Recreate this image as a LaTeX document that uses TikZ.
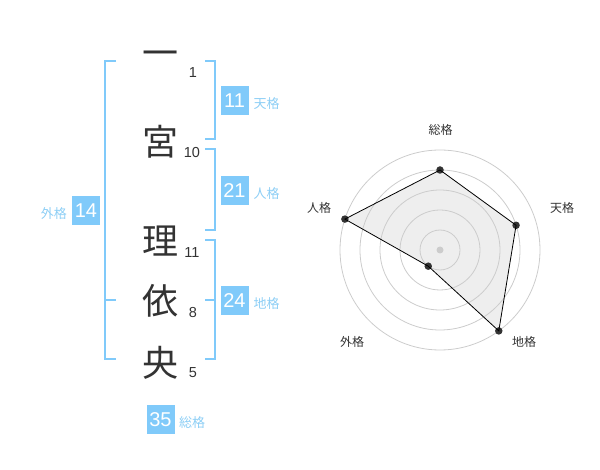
\documentclass[tikz,border=0pt]{standalone}
\usepackage{fontspec}
\setmainfont{Liberation Sans}
\newfontfamily\jp{Noto Sans CJK JP}
\usetikzlibrary{backgrounds}
\definecolor{boxblue}{RGB}{128,202,250}
\definecolor{lblblue}{RGB}{140,206,245}
\definecolor{ink}{RGB}{51,51,51}
\definecolor{ring}{RGB}{204,204,204}
\definecolor{polyfill}{RGB}{238,238,238}
\begin{document}
\begin{tikzpicture}[x=1pt,y=-1pt,
  kanji/.style={font=\jp\fontsize{36}{36}\selectfont, text=ink, inner sep=0pt},
  strokes/.style={font=\fontsize{14.5}{15}\selectfont, text=ink, inner sep=0pt},
  numbox/.style={fill=boxblue, text=white, minimum width=28pt, minimum height=29pt, inner sep=0pt, font=\fontsize{20}{20}\selectfont},
  kaku/.style={font=\jp\fontsize{13}{13}\selectfont, text=lblblue, inner sep=0pt},
  bracket/.style={draw=boxblue, line width=2pt},
  axislabel/.style={font=\jp\fontsize{12}{12}\selectfont, text=ink, inner sep=0pt},
  ringline/.style={draw=ring, line width=0.8pt},
  dot/.style={circle, fill=ink, inner sep=0pt, minimum size=7.5pt},
  cdot/.style={circle, fill=ring, inner sep=0pt, minimum size=7pt},
  outline/.style={draw=black, line width=0.8pt}
]
\useasboundingbox (0,0) rectangle (600,470);

% --- name characters ---
\node[kanji] (k1) at (160,58.3) {一};
\node[kanji] (k2) at (160,142) {宮};
\node[kanji] (k3) at (160,241) {理};
\node[kanji] (k4) at (160,301) {依};
\node[kanji] (k5) at (160,362.5) {央};

\node[strokes] (s1) at (193,73) {1};
\node[strokes] (s2) at (192,153) {10};
\node[strokes] (s3) at (192,253) {11};
\node[strokes] (s4) at (193,313) {8};
\node[strokes] (s5) at (193,373) {5};

% --- brackets ---
\draw[bracket] (116,61) -- (105,61) -- (105,359) -- (116,359);
\draw[bracket] (105,300) -- (116,300);
\draw[bracket] (205,61) -- (215,61) -- (215,139) -- (205,139);
\draw[bracket] (205,149) -- (215,149) -- (215,230) -- (205,230);
\draw[bracket] (205,240) -- (215,240) -- (215,359) -- (205,359);
\draw[bracket] (205,300) -- (215,300);

% --- boxes and labels ---
\node[numbox] (b14) at (86,210.5) {14};
\node[kaku, anchor=east] (l14) at (67,213.5) {外格};
\node[numbox] (b11) at (234.5,101) {11};
\node[kaku] (l11) at (266.5,103.5) {天格};
\node[numbox] (b21) at (234.5,190.5) {21};
\node[kaku] (l21) at (266.5,193.5) {人格};
\node[numbox] (b24) at (234.5,300.5) {24};
\node[kaku] (l24) at (266.5,303.5) {地格};
\node[numbox] (b35) at (160.5,419.5) {35};
\node[kaku] (l35) at (192,422.5) {総格};

% --- radar chart ---
\coordinate (C) at (440,250);
\node[dot] (pz) at ({440+80*cos(90)},{250-80*sin(90)}) {};
\node[dot] (pt) at ({440+80*cos(18)},{250-80*sin(18)}) {};
\node[dot] (pc) at ({440+100*cos(-54)},{250-100*sin(-54)}) {};
\node[dot] (pg) at ({440+20*cos(-126)},{250-20*sin(-126)}) {};
\node[dot] (pj) at ({440+100*cos(162)},{250-100*sin(162)}) {};
\begin{scope}[on background layer]
  \fill[polyfill] (pz.center) -- (pt.center) -- (pc.center) -- (pg.center) -- (pj.center) -- cycle;
  \foreach \r in {20,40,60,80,100} \draw[ringline] (C) circle[radius=\r pt];
\end{scope}
\node[cdot] (cd) at (C) {};
\draw[outline] (pz.center) -- (pt.center) -- (pc.center) -- (pg.center) -- (pj.center) -- cycle;

\node[axislabel] (az) at (440.7,130) {総格};
\node[axislabel] (at) at (562,208) {天格};
\node[axislabel] (ac) at (524,342) {地格};
\node[axislabel] (ag) at (352,342) {外格};
\node[axislabel] (aj) at (319,208) {人格};
\end{tikzpicture}
\end{document}
